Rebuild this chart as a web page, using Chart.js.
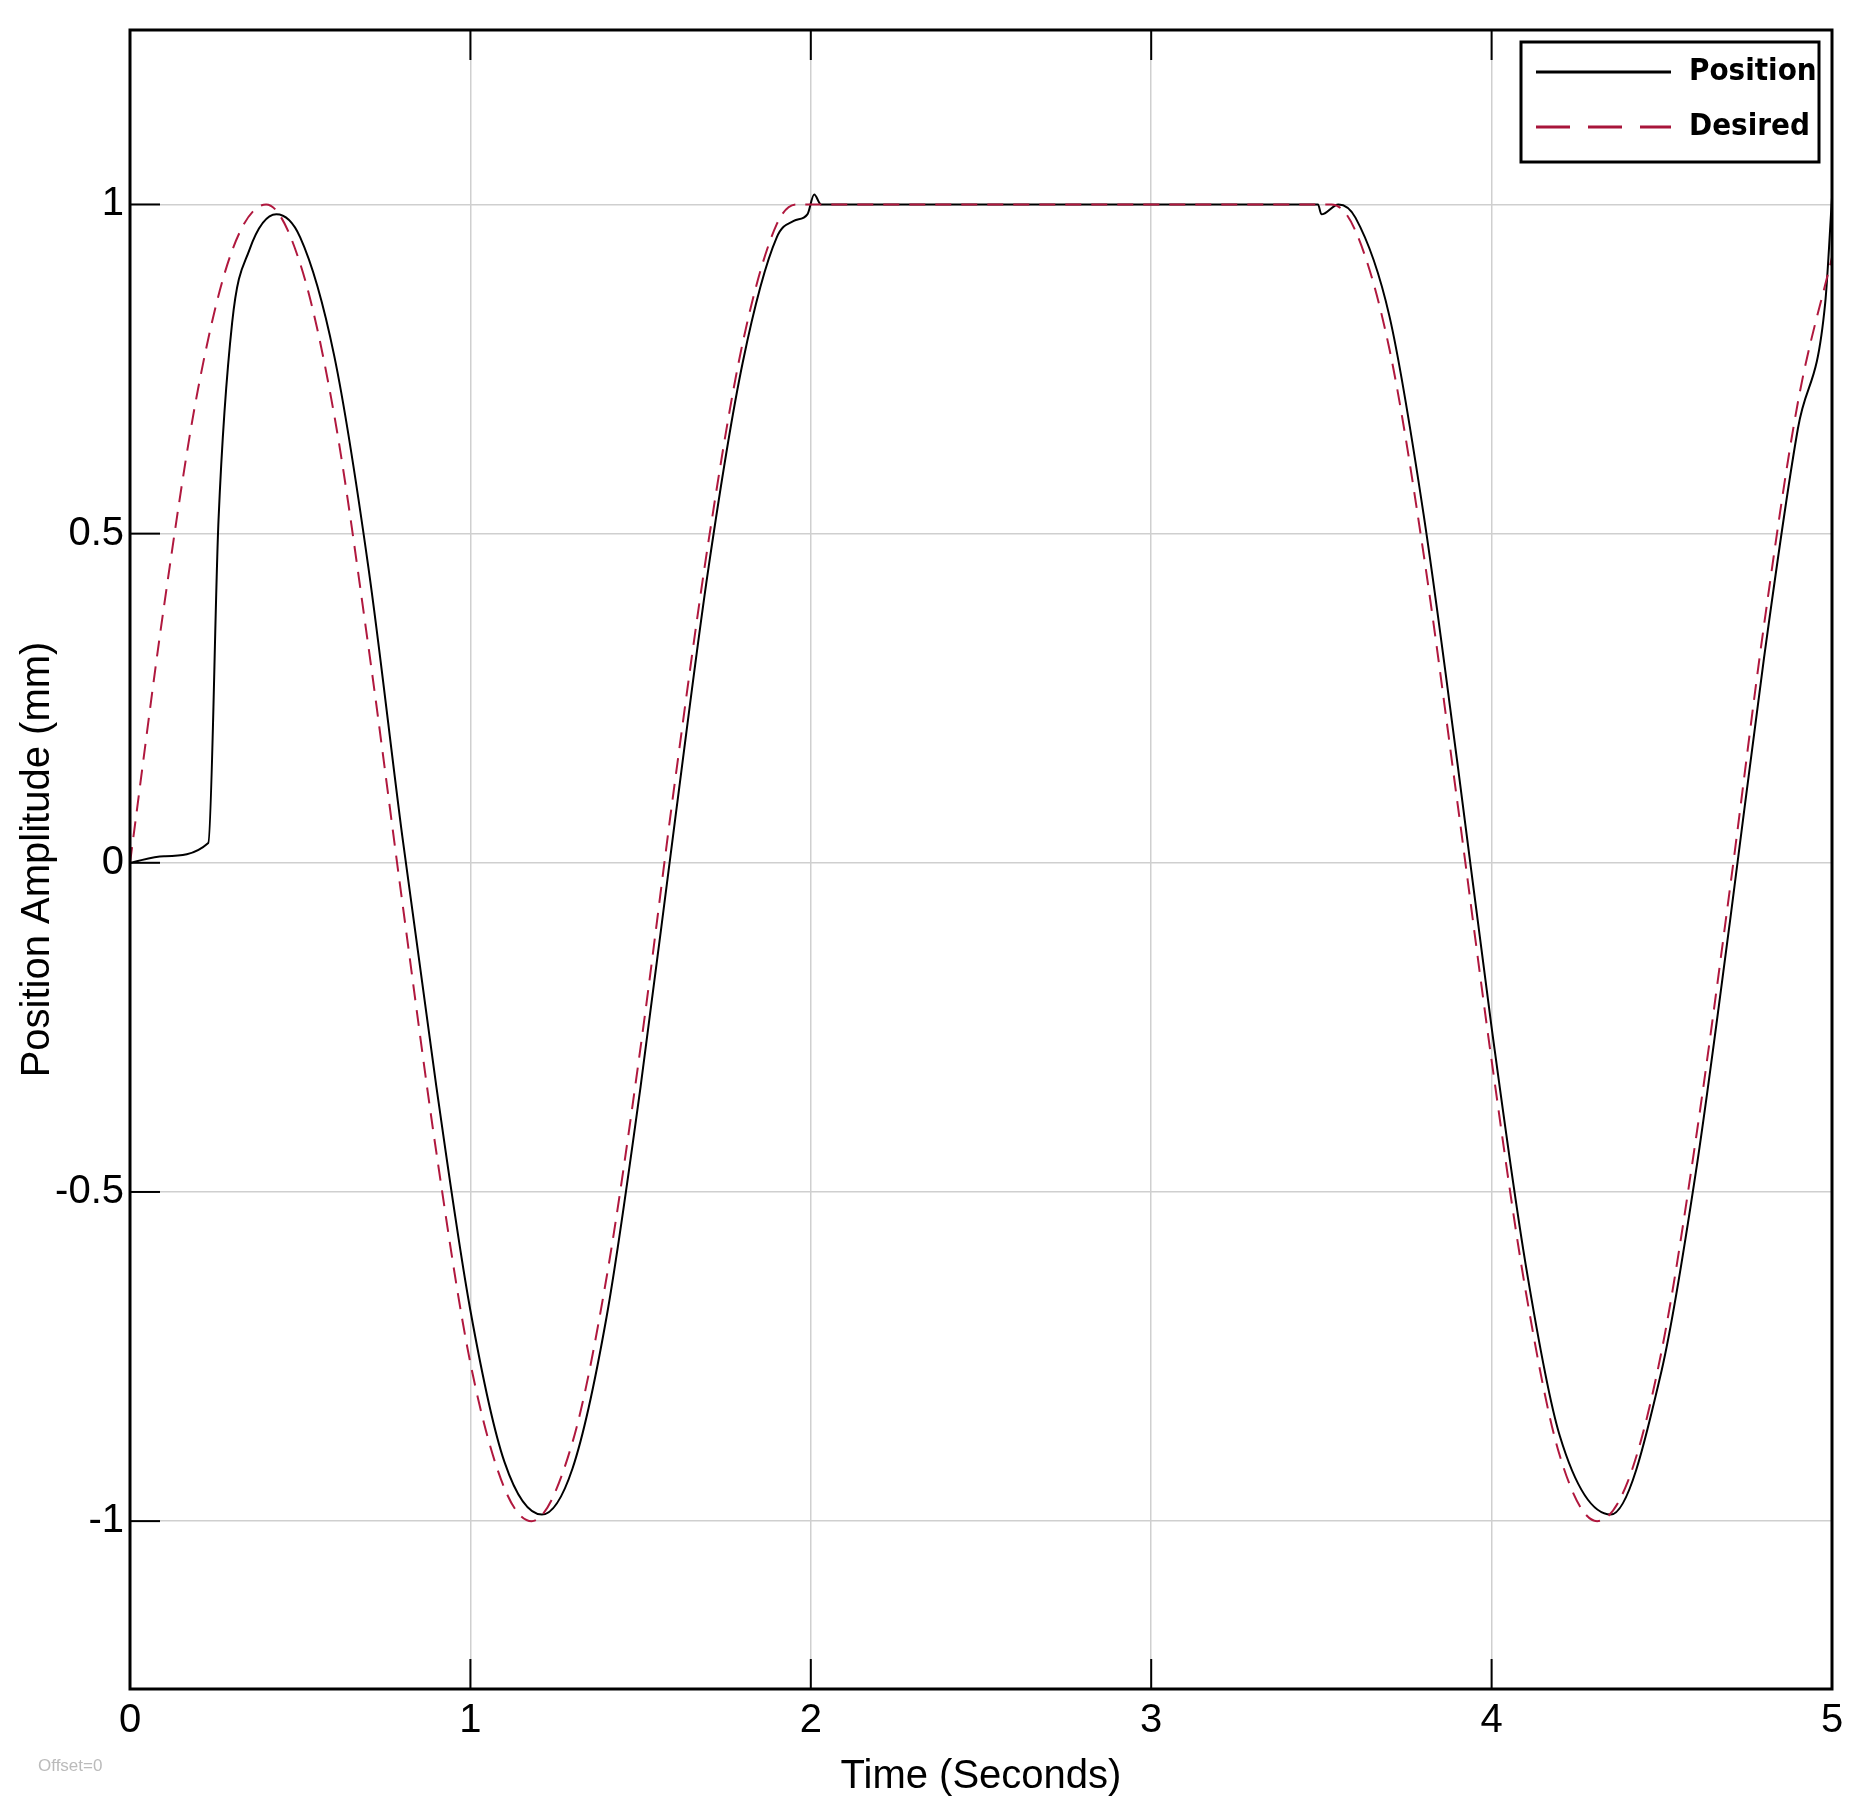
<!DOCTYPE html>
<html>
<head>
<meta charset="utf-8">
<script src="https://cdn.jsdelivr.net/npm/chart.js@4"></script>
<style>
  body { margin: 0; background: #fff; }
  #wrap { width: 1869px; height: 1805px; }
</style>
</head>
<body>
<div id="wrap"><canvas id="c" width="1869" height="1805"></canvas></div>
<script>
const desiredT = [0, 0.1, 0.2, 0.3, 0.4, 0.5, 0.6, 0.7, 0.8, 0.9, 1.0, 1.1, 1.18, 1.3, 1.4, 1.5, 1.6, 1.7, 1.8, 1.9, 1.96, 2.0, 3.53, 3.6, 3.7, 3.8, 3.9, 4.0, 4.1, 4.2, 4.31, 4.4, 4.5, 4.6, 4.7, 4.8, 4.9, 5.0];
const desiredY = [0, 0.39, 0.72, 0.93, 1.0, 0.91, 0.68, 0.33, -0.06, -0.44, -0.76, -0.95, -1.0, -0.88, -0.63, -0.28, 0.12, 0.49, 0.79, 0.97, 1.0, 1.0, 1.0, 0.96, 0.78, 0.47, 0.09, -0.30, -0.65, -0.90, -1.0, -0.94, -0.74, -0.42, -0.04, 0.36, 0.70, 0.92];

const positionT = [0, 0.1, 0.23, 0.26, 0.3, 0.35, 0.43, 0.5, 0.6, 0.7, 0.8, 0.9, 1.0, 1.1, 1.21, 1.3, 1.4, 1.5, 1.6, 1.7, 1.8, 1.9, 1.95, 1.99, 2.01, 2.03, 3.49, 3.5, 3.55, 3.6, 3.7, 3.8, 3.9, 4.0, 4.1, 4.2, 4.35, 4.5, 4.6, 4.7, 4.8, 4.9, 4.98, 5.0];
const positionY = [0, 0.01, 0.03, 0.52, 0.82, 0.93, 0.985, 0.95, 0.77, 0.45, 0.04, -0.34, -0.68, -0.91, -0.99, -0.92, -0.69, -0.34, 0.06, 0.45, 0.76, 0.95, 0.975, 0.985, 1.015, 1.0, 1.0, 0.985, 1.0, 0.98, 0.83, 0.53, 0.15, -0.25, -0.61, -0.87, -0.99, -0.77, -0.47, -0.09, 0.31, 0.66, 0.85, 1.01];

const xTicks = [0, 1, 2, 3, 4, 5];
const yTicks = [-1, -0.5, 0, 0.5, 1];

const pts = (ts, ys) => ts.map((t, i) => ({ x: t, y: ys[i] }));
const font = "'Liberation Sans', Arial, sans-serif";

const extras = {
  id: 'extras',
  afterDraw(chart) {
    const { ctx, chartArea: a, scales: { x, y } } = chart;
    ctx.save();
    ctx.strokeStyle = '#000';
    ctx.lineWidth = 2;
    xTicks.forEach(v => {
      const px = x.getPixelForValue(v);
      ctx.beginPath(); ctx.moveTo(px, a.bottom); ctx.lineTo(px, a.bottom - 30); ctx.stroke();
      ctx.beginPath(); ctx.moveTo(px, a.top); ctx.lineTo(px, a.top + 30); ctx.stroke();
    });
    yTicks.forEach(v => {
      const py = y.getPixelForValue(v);
      ctx.beginPath(); ctx.moveTo(a.left, py); ctx.lineTo(a.left + 30, py); ctx.stroke();
    });
    ctx.lineWidth = 3;
    ctx.strokeRect(a.left, a.top, a.right - a.left, a.bottom - a.top);

    // legend
    const lx = 1521, ly = 42, lw = 298, lh = 120;
    ctx.fillStyle = '#fff';
    ctx.fillRect(lx, ly, lw, lh);
    ctx.lineWidth = 3;
    ctx.strokeRect(lx, ly, lw, lh);
    ctx.beginPath(); ctx.moveTo(lx + 15, ly + 30); ctx.lineTo(lx + 150, ly + 30); ctx.stroke();
    ctx.strokeStyle = '#a8153a';
    ctx.setLineDash([34, 18]);
    ctx.beginPath(); ctx.moveTo(lx + 15, ly + 85); ctx.lineTo(lx + 150, ly + 85); ctx.stroke();
    ctx.setLineDash([]);
    ctx.fillStyle = '#000';
    ctx.font = "bold 31px 'DejaVu Sans Condensed', 'DejaVu Sans', sans-serif";
    ctx.textBaseline = 'middle';
    ctx.fillText('Position', lx + 168, ly + 30);
    ctx.fillText('Desired', lx + 168, ly + 85);

    ctx.fillStyle = '#bbb';
    ctx.font = '17px ' + font;
    ctx.fillText('Offset=0', 38, 1766);
    ctx.restore();
  }
};

new Chart(document.getElementById('c'), {
  type: 'line',
  data: {
    datasets: [
      {
        label: 'Desired',
        data: pts(desiredT, desiredY),
        borderColor: '#b0183e',
        borderWidth: 2,
        borderDash: [16, 10],
        pointRadius: 0,
        cubicInterpolationMode: 'monotone'
      },
      {
        label: 'Position',
        data: pts(positionT, positionY),
        borderColor: '#000',
        borderWidth: 2,
        pointRadius: 0,
        cubicInterpolationMode: 'monotone'
      }
    ]
  },
  options: {
    responsive: false,
    animation: false,
    layout: { padding: { top: 25, right: 37, left: 14, bottom: 0 } },
    plugins: { legend: { display: false }, tooltip: { enabled: false } },
    scales: {
      x: {
        type: 'linear',
        min: 0, max: 5,
        afterBuildTicks: s => { s.ticks = xTicks.map(v => ({ value: v })); },
        afterFit: s => { s.height = 116; },
        grid: { color: '#cfcfcf', lineWidth: 1.5, drawTicks: false },
        border: { display: false },
        ticks: { color: '#000', font: { family: font, size: 40 }, padding: 8, maxRotation: 0 },
        title: { display: true, text: 'Time (Seconds)', color: '#000', font: { family: font, size: 40 }, padding: { top: 0, bottom: 4 } }
      },
      y: {
        min: -1.255, max: 1.265,
        afterBuildTicks: s => { s.ticks = yTicks.map(v => ({ value: v })); },
        afterFit: s => { s.width = 116; },
        grid: { color: '#cfcfcf', lineWidth: 1.5, drawTicks: false },
        border: { display: false },
        ticks: { color: '#000', font: { family: font, size: 40 }, padding: 6, callback: v => String(v) },
        title: { display: true, text: 'Position Amplitude (mm)', color: '#000', font: { family: font, size: 40 }, padding: { top: 0, bottom: 4 } }
      }
    }
  },
  plugins: [extras]
});
</script>
</body>
</html>
